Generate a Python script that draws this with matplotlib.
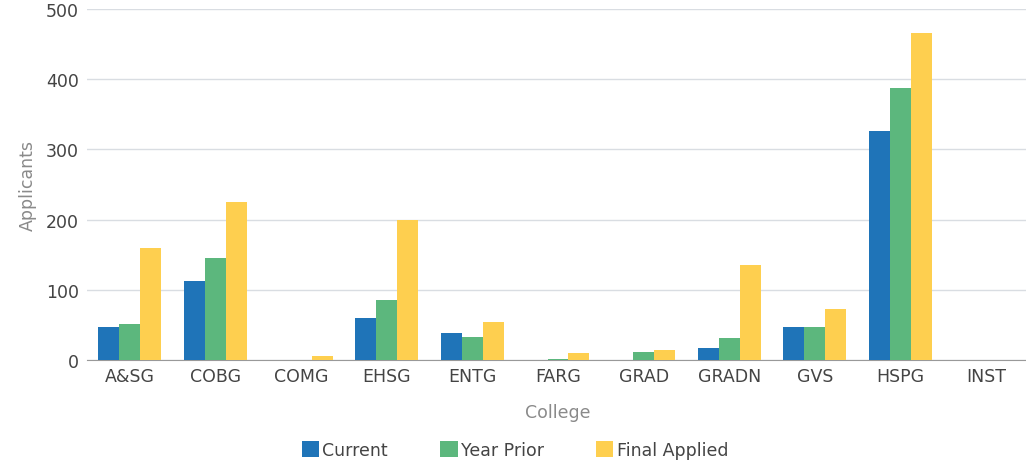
import matplotlib
matplotlib.use("Agg")
import matplotlib.pyplot as plt
import numpy as np

plt.rcParams['font.family'] = ['DejaVu Sans']

colleges = ["A&SG", "COBG", "COMG", "EHSG", "ENTG", "FARG", "GRAD", "GRADN", "GVS", "HSPG", "INST"]
current = [47, 112, 0, 60, 38, 0, 0, 17, 47, 326, 0]
year_prior = [51, 145, 0, 85, 33, 2, 12, 31, 47, 388, 0]
final_applied = [160, 225, 5, 200, 54, 10, 14, 135, 73, 466, 0]

series_names = ["Current", "Year Prior", "Final Applied"]
colors = ["#1f74b8", "#5cb77d", "#fecf4f"]

W, H = 1026, 464
fig = plt.figure(figsize=(W / 100, H / 100), dpi=100)
ax = fig.add_axes([87 / W, 1 - 361 / H, 942 / W, 351 / H])

x = np.arange(len(colleges))
w = 0.245
for i, (vals, name, c) in enumerate(zip([current, year_prior, final_applied], series_names, colors)):
    ax.bar(x + (i - 1) * w, vals, width=w, color=c, label=name, zorder=3)

ax.set_xlim(-0.5, len(colleges) - 0.5)
ax.set_ylim(0, 500)
ax.set_yticks([0, 100, 200, 300, 400, 500])
ax.set_xticks(x)
ax.set_xticklabels(colleges)
ax.yaxis.grid(True, color="#d9dde2", linewidth=1, zorder=0)
for s in ["top", "right", "left"]:
    ax.spines[s].set_visible(False)
ax.spines["bottom"].set_color("#999999")
ax.tick_params(axis="both", length=0, labelsize=12.5, colors="#444444")
ax.tick_params(axis="x", pad=5)
ax.tick_params(axis="y", pad=6)
ax.set_ylabel("Applicants", color="#8a8a8a", fontsize=12.5, labelpad=6)
ax.set_xlabel("College", color="#8a8a8a", fontsize=12.5, labelpad=13)

leg = fig.legend(loc="center", bbox_to_anchor=(515 / W, 1 - 451 / H), ncol=3, frameon=False,
                 handlelength=1.0, handleheight=1.0, columnspacing=3.0, handletextpad=0.2,
                 fontsize=12.5, borderpad=0)
for t in leg.get_texts():
    t.set_color("#444444")

fig.savefig("out.png", dpi=100)
